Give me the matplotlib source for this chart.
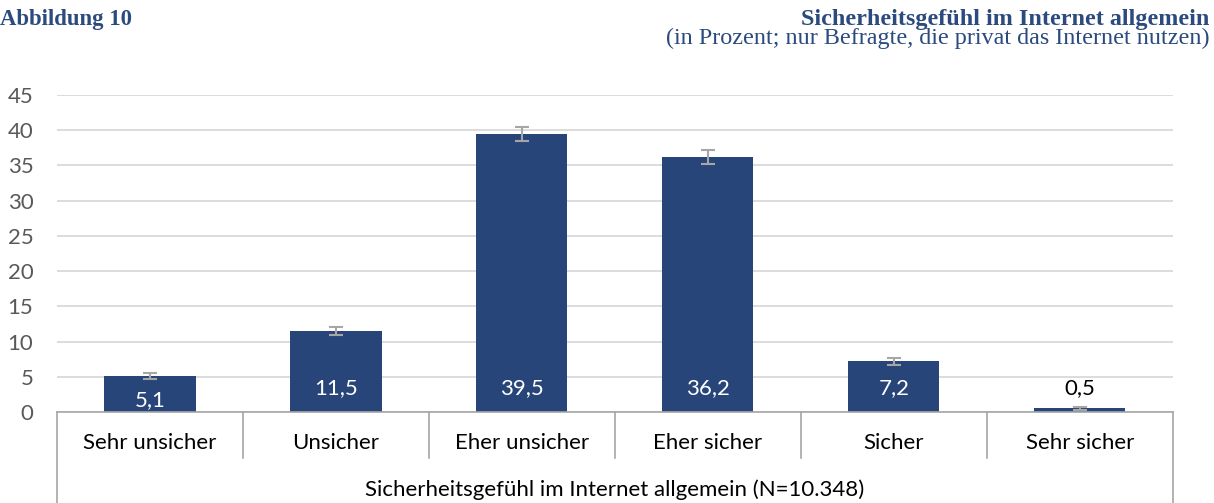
import numpy as np
import matplotlib.pyplot as plt

# Werte aus der Abbildung
kategorien = ["Sehr unsicher", "Unsicher", "Eher unsicher", "Eher sicher", "Sicher", "Sehr sicher"]
anteile = [5.1, 11.5, 39.5, 36.2, 7.2, 0.5]
fehler = [0.4, 0.6, 1.0, 0.95, 0.5, 0.2]
beschriftung = ["5,1", "11,5", "39,5", "36,2", "7,2", "0,5"]
y_ticks = [0, 5, 10, 15, 20, 25, 30, 35, 40, 45]

navy = "#28457a"
titel_farbe = "#2b4a7e"
grau = "#a6a6a6"
fs = 16

plt.rcParams['font.family'] = ['Lato', 'DejaVu Sans']

fig = plt.figure(figsize=(12.14, 5.03), dpi=100)
ax = fig.add_axes([0.047, 0.181, 0.919, 0.630])

x = np.arange(len(kategorien))
ax.bar(x, anteile, width=0.49, color=navy, zorder=2)
ax.errorbar(x, anteile, yerr=fehler, fmt='none', ecolor=grau, elinewidth=1.5,
            capsize=5, capthick=1.5, zorder=3)

for i, (v, txt) in enumerate(zip(anteile, beschriftung)):
    if v < 2:
        ax.text(i, 3.4, txt, ha='center', va='center', fontsize=fs, color='black')
    elif v < 6:
        ax.text(i, 1.7, txt, ha='center', va='center', fontsize=fs, color='white')
    else:
        ax.text(i, 3.4, txt, ha='center', va='center', fontsize=fs, color='white')

ax.set_xlim(-0.5, len(kategorien) - 0.5)
ax.set_ylim(0, 45)
ax.set_yticks(y_ticks)
ax.tick_params(axis='y', length=0, pad=17, labelsize=fs, labelcolor='#595959')
ax.set_xticks([])
ax.yaxis.grid(True, color='#d9d9d9', linewidth=1.3, zorder=0)
ax.set_axisbelow(True)
for s in ['top', 'right', 'left']:
    ax.spines[s].set_visible(False)
ax.spines['bottom'].set_color(grau)
ax.spines['bottom'].set_linewidth(1.2)

# Kategorienkaesten unter der Achse
trans = ax.get_xaxis_transform()
for b in np.arange(-0.5, len(kategorien), 1.0):
    unten = -0.29 if b in (-0.5, len(kategorien) - 0.5) else -0.145
    ax.plot([b, b], [0, unten], transform=trans, color=grau, lw=1.2, clip_on=False)
for i, k in enumerate(kategorien):
    ax.text(i, -0.098, k, transform=trans, ha='center', va='center', fontsize=fs)
ax.text(2.5, -0.246, "Sicherheitsgefühl im Internet allgemein (N=10.348)", transform=trans,
        ha='center', va='center', fontsize=fs)

fig.text(0.0, 0.962, "Abbildung 10", ha='left', va='center', fontsize=16.4,
         fontweight='bold', family='Liberation Serif', color=titel_farbe)
fig.text(0.996, 0.962, "Sicherheitsgefühl im Internet allgemein", ha='right', va='center',
         fontsize=17.4, fontweight='bold', family='Liberation Serif', color=titel_farbe)
fig.text(0.996, 0.924, "(in Prozent; nur Befragte, die privat das Internet nutzen)", ha='right',
         va='center', fontsize=17.4, family='Liberation Serif', color=titel_farbe)

fig.savefig("out.png", dpi=100)
